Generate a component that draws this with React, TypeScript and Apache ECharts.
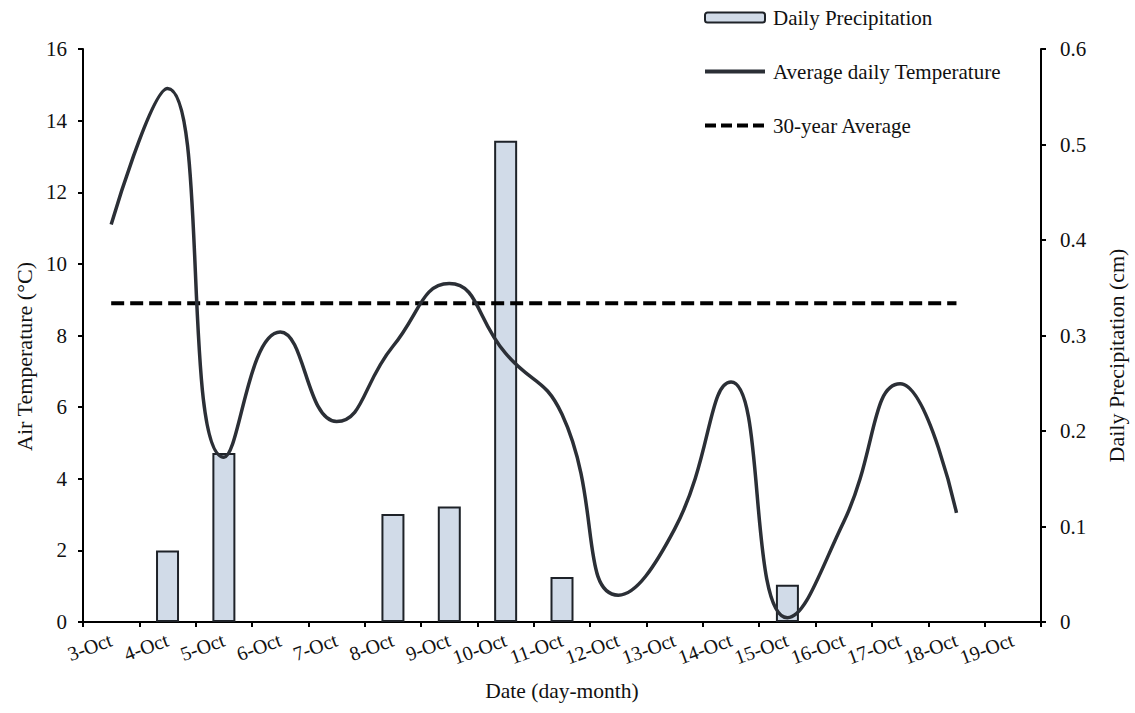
import React, { useEffect, useRef } from "react";
import * as echarts from "echarts";

const categories = [
  "3-Oct", "4-Oct", "5-Oct", "6-Oct", "7-Oct", "8-Oct", "9-Oct", "10-Oct", "11-Oct",
  "12-Oct", "13-Oct", "14-Oct", "15-Oct", "16-Oct", "17-Oct", "18-Oct", "19-Oct",
];
const temperature = [
  11.1, 14.9, 4.6, 8.1, 5.6, 7.7, 9.45, 7.5, 5.8, 0.75, 2.6, 6.7, 0.12, 2.8, 6.65, 3.05, null,
];
const precipitation = [
  null, 0.075, 0.177, null, null, 0.113, 0.121, 0.504, 0.047, null, null, null, 0.039, null, null, null, null,
];
const thirtyYearAverage = 8.9;
const leftTicks = { min: 0, max: 16, interval: 2 };
const rightTicks = { min: 0, max: 0.6, interval: 0.1 };

const FONT = "'Liberation Serif', 'Times New Roman', serif";

export default function App() {
  const ref = useRef<HTMLDivElement>(null);
  useEffect(() => {
    document.body.style.margin = "0";
    if (!ref.current) return;
    const chart = echarts.init(ref.current, undefined, { renderer: "svg" });
    const avgLine = temperature.map((v) => (v == null ? null : thirtyYearAverage));
    const axisLine = { show: true, lineStyle: { color: "#000", width: 2 } };
    const axisTick = { show: true, length: 5, lineStyle: { color: "#000", width: 2 } };
    chart.setOption({
      animation: false,
      textStyle: { fontFamily: FONT, color: "#111" },
      grid: { left: 83, right: 88, top: 49, bottom: 91, containLabel: false },
      legend: {
        orient: "vertical",
        left: 703,
        top: 7,
        padding: 0,
        itemWidth: 60,
        itemHeight: 10,
        itemGap: 33,
        textStyle: { fontFamily: FONT, fontSize: 21, color: "#111", padding: [0, 0, 0, 3] },
        data: [
          { name: "Daily Precipitation" },
          {
            name: "Average daily Temperature",
            itemStyle: { opacity: 0 },
            lineStyle: { width: 4, color: "#2b2f36" },
          },
          {
            name: "30-year Average",
            itemStyle: { opacity: 0 },
            lineStyle: { width: 4, color: "#000", type: [11, 5] },
          },
        ],
      },
      xAxis: {
        type: "category",
        data: categories,
        boundaryGap: true,
        axisLine,
        axisTick: { ...axisTick, alignWithLabel: false, interval: 0 },
        axisLabel: {
          interval: 0,
          rotate: 20,
          margin: 17,
          fontSize: 20,
          fontFamily: FONT,
          color: "#111",
        },
        name: "Date (day-month)",
        nameLocation: "middle",
        nameGap: 58,
        nameTextStyle: { fontSize: 21.5, fontFamily: FONT, color: "#111" },
        splitLine: { show: false },
      },
      yAxis: [
        {
          type: "value",
          ...leftTicks,
          position: "left",
          axisLine,
          axisTick,
          axisLabel: { fontSize: 21, margin: 16, fontFamily: FONT, color: "#111" },
          splitLine: { show: false },
          name: "Air Temperature (°C)",
          nameLocation: "middle",
          nameRotate: 90,
          nameGap: 47,
          nameTextStyle: { fontSize: 22, fontFamily: FONT, color: "#111", padding: [0, 42, 0, 0] },
        },
        {
          type: "value",
          ...rightTicks,
          position: "right",
          axisLine,
          axisTick,
          axisLabel: { fontSize: 21, margin: 19, fontFamily: FONT, color: "#111" },
          splitLine: { show: false },
          name: "Daily Precipitation (cm)",
          nameLocation: "middle",
          nameRotate: 90,
          nameGap: 64,
          nameTextStyle: { fontSize: 22, fontFamily: FONT, color: "#111", padding: [0, 40, 0, 0] },
        },
      ],
      series: [
        {
          name: "Daily Precipitation",
          type: "bar",
          yAxisIndex: 1,
          data: precipitation,
          barWidth: 23,
          itemStyle: { color: "#d1dbe8", borderColor: "#1e2228", borderWidth: 2 },
          z: 1,
        },
        {
          name: "Average daily Temperature",
          type: "line",
          yAxisIndex: 0,
          data: temperature,
          smooth: 0.5,
          symbol: "none",
          lineStyle: { color: "#2b2f36", width: 3.5 },
          itemStyle: { color: "#2b2f36" },
          z: 3,
        },
        {
          name: "30-year Average",
          type: "line",
          yAxisIndex: 0,
          data: avgLine,
          symbol: "none",
          lineStyle: { color: "#000", width: 4, type: [13, 6] },
          itemStyle: { color: "#000" },
          z: 2,
        },
      ],
    });
    return () => chart.dispose();
  }, []);
  return <div ref={ref} style={{ width: 1135, height: 713 }} />;
}
